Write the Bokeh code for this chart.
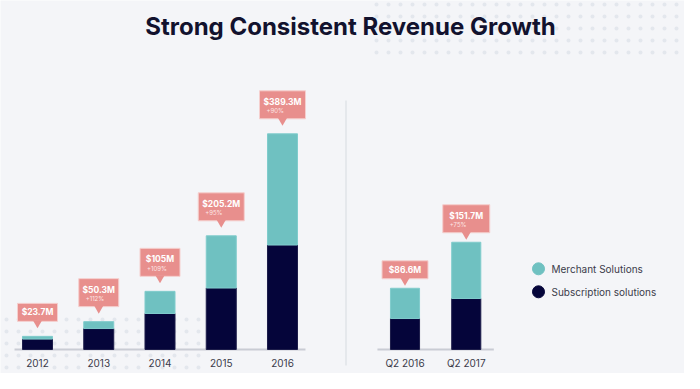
import numpy as np
from bokeh.plotting import figure
from bokeh.models import Range1d
from bokeh.core.properties import value
from bokeh.embed import file_html
from bokeh.resources import INLINE

# ---------------- data ----------------
title = "Strong Consistent Revenue Growth"
series_names = ["Merchant Solutions", "Subscription solutions"]

years = ["2012", "2013", "2014", "2015", "2016"]
year_subscription = [18.8, 37.8, 65.0, 111.0, 188.6]
year_merchant = [4.9, 12.5, 40.0, 94.2, 200.7]
year_totals = ["$23.7M", "$50.3M", "$105M", "$205.2M", "$389.3M"]
year_growth = ["", "+112%", "+109%", "+95%", "+90%"]

quarters = ["Q2 2016", "Q2 2017"]
q_subscription = [43.8, 72.1]
q_merchant = [42.8, 79.6]
q_totals = ["$86.6M", "$151.7M"]
q_growth = ["", "+75%"]

# ---------------- style / layout ----------------
W, H = 684, 373
STEP = 61.25          # px per category slot
X0 = 37               # px position of first slot
BASE = 349            # px of baseline from top
S_L = 0.554           # px per $M, annual panel
S_R = 0.707           # px per $M, quarterly panel
BG = "#f4f5f8"
NAVY = "#05053a"
TEAL = "#6fc1c1"
SALMON = "#e88f8d"
TXT = "#3b3b4a"
FONT = "Inter"
box_w_years = [40, 40, 40, 46, 46]
box_w_q = [46, 47]

def px_x(fx):
    return (fx - X0) / STEP

def px_y(fy, s=S_L):
    return (BASE - fy) / s

p = figure(width=W, height=H, output_backend="svg", toolbar_location=None,
           x_range=Range1d(-X0 / STEP, (W - X0) / STEP),
           y_range=Range1d(-(H - BASE) / S_L, BASE / S_L),
           min_border=0, background_fill_color=BG, border_fill_color=BG,
           outline_line_color=None)
p.extra_y_ranges = {"q": Range1d(-(H - BASE) / S_R, BASE / S_R)}
p.axis.visible = False
p.grid.visible = False

# decorative dot pattern
dx_tr, dy_tr = np.meshgrid(np.arange(376, 700, 12), np.arange(4, 56, 12))
dx_bl, dy_bl = np.meshgrid(np.arange(6, 200, 12), np.arange(319, 390, 12))
dxs = np.concatenate([dx_tr.ravel(), dx_bl.ravel()])
dys = np.concatenate([dy_tr.ravel(), dy_bl.ravel()])
p.scatter(x=px_x(dxs), y=px_y(dys), size=4, marker="circle",
          fill_color="#e3e7ed", line_color=None)

# title
p.text(x=[px_x(350)], y=[px_y(26)], text=[title], text_align="center",
       text_baseline="middle", text_font=value(FONT), text_font_style="bold",
       text_font_size="24px", text_color="#12122e")

# separator
p.segment(x0=[px_x(345.5)], x1=[px_x(345.5)], y0=[px_y(100)], y1=[px_y(365)],
          line_color="#e1e3e8", line_width=1.5)


def draw_group(xs, cats, sub, mer, totals, growth, s, rname, bar_w, gap, ext, box_w):
    xs = np.asarray(xs, dtype=float)
    sub = np.asarray(sub, dtype=float)
    mer = np.asarray(mer, dtype=float)
    tot = sub + mer
    p.segment(x0=[xs[0] - ext], x1=[xs[-1] + ext], y0=[0], y1=[0],
              line_color="#c9ccd4", line_width=2, y_range_name=rname)
    p.vbar(x=xs, bottom=0, top=sub, width=bar_w, fill_color=NAVY,
           line_color="#1d1d4a", line_width=1, y_range_name=rname)
    p.vbar(x=xs, bottom=sub, top=tot, width=bar_w, fill_color=TEAL,
           line_color="#80cccc", line_width=1, y_range_name=rname)
    p.text(x=xs, y=-13.5 / s, text=cats, text_align="center",
           text_baseline="middle", text_font=value(FONT),
           text_font_size="10px", text_color=TXT, y_range_name=rname)
    # callouts
    ptr = 7
    hs = np.array([28.0 if g else 18.0 for g in growth])
    box_bottom = tot + (gap + ptr) / s
    p.rect(x=xs, y=box_bottom + hs / 2 / s, width=box_w, height=hs,
           width_units="screen", height_units="screen",
           fill_color=SALMON, line_color="#f5cfce", line_width=1,
           y_range_name=rname)
    p.scatter(x=xs, y=tot + (gap + 5.2) / s, marker="inverted_triangle", size=9,
              fill_color=SALMON, line_color=None, y_range_name=rname)
    val_y = np.where(hs > 20, box_bottom + 17 / s, box_bottom + 9 / s)
    p.text(x=xs, y=val_y, text=totals, text_align="center",
           text_baseline="middle", text_font=value(FONT),
           text_font_style="bold", text_font_size="8.5px",
           text_color="white", y_range_name=rname)
    gx = [x for x, g in zip(xs, growth) if g]
    gy = [b + 8.3 / s for b, g in zip(box_bottom, growth) if g]
    gw = [w for w, g in zip(box_w, growth) if g]
    gt = [g for g in growth if g]
    p.text(x=gx, y=gy, text=gt, x_offset=[-w / 2 + 7 for w in gw],
           text_align="left", text_baseline="middle", text_font=value(FONT),
           text_font_size="6px", text_color="#fde6e5", y_range_name=rname)


draw_group(list(range(len(years))), years, year_subscription, year_merchant,
           year_totals, year_growth, S_L, "default", 0.49, 8, 0.375, box_w_years)
draw_group([len(years) + 1 + i for i in range(len(quarters))], quarters,
           q_subscription, q_merchant, q_totals, q_growth, S_R, "q", 0.475, 2.5,
           0.45, box_w_q)

# legend
for i, (name, col) in enumerate(zip(series_names, [TEAL, NAVY])):
    fy = 268.3 + 23 * i
    p.scatter(x=[px_x(538)], y=[px_y(fy)], marker="circle", size=12,
              fill_color=col, line_color=col)
    p.text(x=[px_x(551)], y=[px_y(fy)], text=[name], text_align="left",
           text_baseline="middle", text_font=value(FONT),
           text_font_size="10px", text_color=TXT)

open("out.html", "w").write(file_html(p, INLINE))
